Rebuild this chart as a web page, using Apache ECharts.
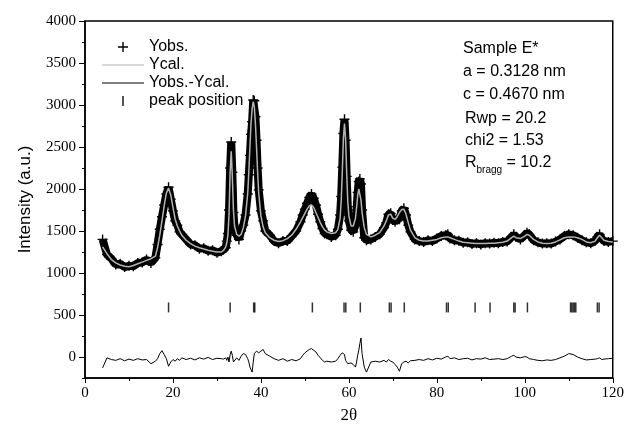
<!DOCTYPE html>
<html>
<head>
<meta charset="utf-8">
<script src="https://cdn.jsdelivr.net/npm/echarts@6/dist/echarts.min.js"></script>
<style>
html,body{margin:0;padding:0;background:#fff;}
#chart{width:627px;height:433px;}
</style>
</head>
<body>
<div id="chart"></div>
<script>
// 2-theta sampling (deg), finer round the sharp peaks
var twoTheta = [
  4,5,6,7,8,9,10,11,12,13,14,15,16,
  16.5,17,17.5,18,18.5,19,19.5,20,20.5,21,21.5,22,
  23,24,25,26,27,28,29,30,31,
  31.5,32,32.25,32.5,32.75,33,33.25,33.5,33.75,34,34.5,35,
  35.5,36,36.5,37,37.25,37.5,37.75,38,38.25,38.5,38.75,39,39.25,39.5,40,40.5,41,
  42,43,44,45,46,47,48,49,
  49.5,50,50.5,51,51.5,52,52.5,53,53.5,54,54.5,55,
  56,57,57.5,58,58.25,58.5,58.75,59,59.25,59.5,59.75,60,60.5,61,61.5,61.75,62,62.25,62.5,62.75,63,63.5,64,65,66,
  67,68,68.5,69,69.5,70,70.5,71,71.5,72,72.5,73,73.5,74,75,76,
  77,78,79,80,81,82,82.5,83,
  84,85,86,87,88,89,90,91,92,93,94,95,96,97,97.5,
  98,99,100,100.5,
  101,102,103,104,105,106,107,108,109,110,111,112,113,114,115,116,116.5,117,117.5,
  118,119,120
];

var yObs = [
  1400,1220,1170,1100,1110,1070,1085,1080,1120,1125,1160,1120,1180,
  1340,1520,1670,1810,1940,2020,1880,1740,1620,1570,1490,1460,
  1400,1340,1330,1290,1295,1265,1270,1240,1260,
  1280,1300,1380,1470,1750,2250,2560,2200,1720,1540,1450,1400,
  1500,1570,1690,1940,2170,2400,2650,2800,3060,3050,2860,2580,2250,1990,1740,1620,1500,
  1450,1380,1355,1380,1380,1440,1500,1610,
  1690,1760,1830,1900,1940,1890,1810,1700,1610,1530,1470,1460,
  1430,1450,1520,1690,1910,2260,2660,2830,2580,2150,1790,1620,1510,1490,1570,1750,1960,2090,2120,2060,1750,1420,1390,1400,1430,
  1460,1540,1600,1700,1710,1630,1610,1640,1640,1740,1770,1690,1570,1490,1400,1380,
  1370,1390,1380,1410,1440,1450,1460,1410,
  1390,1385,1360,1365,1345,1355,1340,1355,1350,1360,1355,1370,1375,1430,1460,
  1430,1400,1450,1480,
  1460,1390,1365,1350,1355,1350,1375,1400,1440,1460,1450,1420,1390,1365,1355,1385,1430,1460,1410,
  1380,1370,1380
];

var yCal = [
  1310,1230,1160,1120,1095,1080,1075,1090,1110,1130,1150,1170,1200,
  1300,1450,1620,1800,1950,2010,1930,1780,1640,1560,1500,1450,
  1390,1350,1320,1300,1285,1270,1260,1250,1250,
  1270,1310,1360,1450,1700,2200,2450,2150,1750,1560,1460,1440,
  1460,1540,1680,1950,2200,2500,2780,2950,3040,2980,2780,2500,2200,1950,1680,1550,1480,
  1420,1390,1375,1385,1410,1450,1520,1610,
  1660,1710,1760,1800,1810,1780,1720,1660,1600,1550,1510,1490,
  1470,1480,1520,1650,1850,2200,2600,2780,2600,2200,1850,1680,1560,1560,1650,1780,1920,2000,1990,1870,1720,1540,1460,1430,1450,
  1480,1560,1620,1690,1700,1650,1640,1670,1720,1755,1760,1700,1600,1510,1420,1390,
  1380,1380,1390,1400,1420,1430,1430,1420,
  1400,1380,1365,1360,1355,1350,1350,1350,1355,1355,1360,1365,1380,1420,1440,
  1420,1410,1440,1460,
  1450,1400,1370,1355,1350,1355,1370,1395,1420,1430,1430,1420,1400,1370,1360,1380,1420,1450,1420,
  1390,1375,1370
];

var yDiff = [
  -130,-10,-30,-40,-20,-45,-25,-40,-20,-35,-30,-80,-50,
  -20,40,75,30,-20,-110,-60,-30,-50,-20,-40,-10,
  -30,-15,-35,-10,-25,-5,-30,-15,-20,
  -25,-10,-40,0,-60,30,70,20,-60,-40,-10,-40,
  10,40,30,-20,-60,-120,-150,-180,-60,40,60,70,60,50,70,90,40,
  10,-20,-40,-20,-50,-30,-45,-20,
  20,50,70,90,100,80,60,20,-10,-40,-60,-50,
  -60,-50,-20,20,40,50,63,30,-40,-60,-80,-60,-70,-90,-120,-60,20,80,160,226,40,-120,-180,-60,-50,
  -60,-40,-60,-30,-50,-60,-90,-120,-170,-80,-60,-50,-70,-45,-40,-30,
  -40,-20,-35,-15,-25,0,10,-20,
  -10,-30,-20,-15,-35,-20,-25,-10,-30,-25,-20,-30,-20,10,20,
  0,-10,5,0,
  -20,-30,-40,-45,-35,-40,-30,-10,10,40,30,0,-20,-35,-30,-25,-20,-10,-30,
  -25,-20,-15
];

// Bragg peak positions and the level their marks sit at
var peakPos = [19.0,33.0,38.35,38.6,51.7,58.9,59.3,62.6,69.2,69.6,72.6,82.2,82.6,
  88.7,92.1,97.5,97.8,100.6,110.4,110.7,111.0,111.3,111.6,116.5,116.9];
var peakLevel = 590;

var xTicks = [0,20,40,60,80,100,120];
var yTicks = [0,500,1000,1500,2000,2500,3000,3500,4000];

function pairs(xs, ys) {
  if (xs.length !== ys.length) console.error('length mismatch', xs.length, ys.length);
  return xs.map(function (x, i) { return [x, ys[i]]; });
}

var plusPath = 'path://M0,4.3H10V5.7H0Z M4.3,0H5.7V10H4.3Z';
var tickPath = 'path://M0,0H1V6H0Z';
var linePath = 'path://M0,0H42V1.2H0Z';
var serif = 'Liberation Serif';
var sans = 'Liberation Sans';
var plain = function (v) { return String(v); };

var chart = echarts.init(document.getElementById('chart'));
chart.setOption({
  animation: false,
  grid: { left: 85, right: 10, top: 21, bottom: 55, show: true, borderColor: '#000', borderWidth: 1.5 },
  legend: {
    orient: 'vertical',
    left: 97,
    top: 33,
    itemWidth: 42,
    itemHeight: 10,
    itemGap: 0,
    selectedMode: false,
    itemStyle: { borderWidth: 0 },
    textStyle: { fontFamily: sans, fontSize: 16, color: '#000', lineHeight: 18 },
    data: [
      { name: 'Yobs.', icon: plusPath },
      { name: 'Ycal.', icon: linePath },
      { name: 'Yobs.-Ycal.', icon: linePath },
      { name: 'peak position', icon: tickPath }
    ]
  },
  xAxis: {
    type: 'value',
    min: 0, max: 120, interval: 20,
    axisLine: { onZero: false, lineStyle: { color: '#000', width: 1.5 } },
    axisTick: { length: 5, lineStyle: { color: '#000' } },
    minorTick: { show: true, splitNumber: 2, length: 3, lineStyle: { color: '#000' } },
    axisLabel: { customValues: xTicks, formatter: plain, fontFamily: serif, fontSize: 15, color: '#000', margin: 8 },
    splitLine: { show: false },
    name: '2θ', nameLocation: 'middle', nameGap: 29,
    nameTextStyle: { fontFamily: serif, fontSize: 17, color: '#000' }
  },
  yAxis: [{
    type: 'value',
    min: -250, max: 4000, interval: 250,
    axisLine: { show: true, onZero: false, lineStyle: { color: '#000', width: 1.5 } },
    axisTick: { show: true, length: 3, lineStyle: { color: '#000' } },
    axisLabel: { customValues: yTicks, formatter: plain, fontFamily: serif, fontSize: 15, color: '#000', margin: 9 },
    splitLine: { show: false },
    name: 'Intensity (a.u.)', nameLocation: 'middle', nameGap: 51,
    nameTextStyle: { fontFamily: sans, fontSize: 17, color: '#000' }
  }, {
    type: 'value',
    position: 'left',
    min: -250, max: 4000,
    axisLine: { show: false, onZero: false },
    axisTick: { show: true, customValues: yTicks, length: 6, lineStyle: { color: '#000' } },
    axisLabel: { show: false },
    splitLine: { show: false }
  }],
  graphic: [
    { type: 'text', left: 463, top: 41, style: { text: 'Sample E*', font: '16px "Liberation Sans"', fill: '#000' } },
    { type: 'text', left: 463, top: 64, style: { text: 'a = 0.3128 nm', font: '16px "Liberation Sans"', fill: '#000' } },
    { type: 'text', left: 463, top: 87, style: { text: 'c = 0.4670 nm', font: '16px "Liberation Sans"', fill: '#000' } },
    { type: 'text', left: 465, top: 111, style: { text: 'Rwp = 20.2', font: '16px "Liberation Sans"', fill: '#000' } },
    { type: 'text', left: 465, top: 133, style: { text: 'chi2 = 1.53', font: '16px "Liberation Sans"', fill: '#000' } },
    { type: 'text', left: 465, top: 155, style: {
        text: '{r|R}{s|bragg}{r| = 10.2}',
        rich: {
          r: { fontFamily: sans, fontSize: 16, fill: '#000', color: '#000' },
          s: { fontFamily: sans, fontSize: 10, fill: '#000', color: '#000', verticalAlign: 'bottom', padding: [0, 0, -4, 0] }
        }
      } }
  ],
  series: [{
    name: 'Yobs.',
    type: 'line',
    data: pairs(twoTheta, yObs),
    symbol: plusPath,
    symbolSize: 10,
    showSymbol: true,
    showAllSymbol: true,
    itemStyle: { color: '#000' },
    lineStyle: { color: '#000', width: 8 },
    z: 2
  }, {
    name: 'Ycal.',
    type: 'line',
    data: pairs(twoTheta, yCal),
    symbol: 'none',
    itemStyle: { color: '#b4b4b4' },
    lineStyle: { color: '#b4b4b4', width: 1.5 },
    z: 3
  }, {
    name: 'Yobs.-Ycal.',
    type: 'line',
    data: pairs(twoTheta, yDiff),
    symbol: 'none',
    itemStyle: { color: '#000' },
    lineStyle: { color: '#000', width: 1 },
    z: 3
  }, {
    name: 'peak position',
    type: 'scatter',
    data: peakPos.map(function (p) { return [p, peakLevel]; }),
    symbol: 'rect',
    symbolSize: [1.5, 10],
    itemStyle: { color: '#000' },
    z: 3
  }]
});
</script>
</body>
</html>
